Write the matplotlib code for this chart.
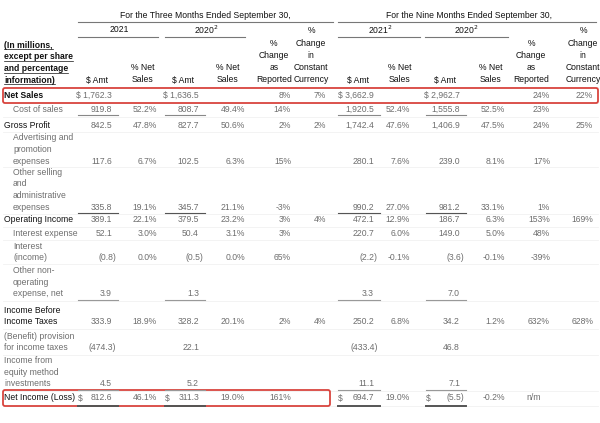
import matplotlib.pyplot as plt
from matplotlib.patches import FancyBboxPatch

plt.rcParams['font.family'] = ['Liberation Sans', 'DejaVu Sans']

# Datos de la tabla (millones)
row_labels = ["Net Sales", "Cost of sales", "Gross Profit",
              "Advertising and\npromotion\nexpenses",
              "Other selling\nand\nadministrative\nexpenses",
              "Operating Income", "Interest expense", "Interest\n(income)",
              "Other non-\noperating\nexpense, net",
              "Income Before\nIncome Taxes",
              "(Benefit) provision\nfor income taxes",
              "Income from\nequity method\ninvestments",
              "Net Income (Loss)"]
row_main = [True, False, True, False, False, True, False, False, False, True, False, False, True]
row_indent = [False, True, False, True, True, False, True, True, True, False, False, False, False]

amt_3m_2021 = [1762.3, 919.8, 842.5, 117.6, 335.8, 389.1, 52.1, -0.8, 3.9, 333.9, -474.3, 4.5, 812.6]
pct_3m_2021 = [None, 52.2, 47.8, 6.7, 19.1, 22.1, 3.0, 0.0, None, 18.9, None, None, 46.1]
amt_3m_2020 = [1636.5, 808.7, 827.7, 102.5, 345.7, 379.5, 50.4, -0.5, 1.3, 328.2, 22.1, 5.2, 311.3]
pct_3m_2020 = [None, 49.4, 50.6, 6.3, 21.1, 23.2, 3.1, 0.0, None, 20.1, None, None, 19.0]
chg_3m_rep = [8, 14, 2, 15, -3, 3, 3, 65, None, 2, None, None, 161]
chg_3m_cc = [7, None, 2, None, None, 4, None, None, None, 4, None, None, None]
amt_9m_2021 = [3662.9, 1920.5, 1742.4, 280.1, 990.2, 472.1, 220.7, -2.2, 3.3, 250.2, -433.4, 11.1, 694.7]
pct_9m_2021 = [None, 52.4, 47.6, 7.6, 27.0, 12.9, 6.0, -0.1, None, 6.8, None, None, 19.0]
amt_9m_2020 = [2962.7, 1555.8, 1406.9, 239.0, 981.2, 186.7, 149.0, -3.6, 7.0, 34.2, 46.8, 7.1, -5.5]
pct_9m_2020 = [None, 52.5, 47.5, 8.1, 33.1, 6.3, 5.0, -0.1, None, 1.2, None, None, -0.2]
chg_9m_rep = [24, 23, 24, 17, 1, 153, 48, -39, None, 632, None, None, "n/m"]
chg_9m_cc = [22, None, 25, None, None, 169, None, None, None, 628, None, None, None]

# y de la ultima linea de cada fila (px)
row_y = [95, 109, 125, 161, 207, 220, 233, 258, 294, 322, 348, 384, 398]
line_h = 11.6

# columnas: (datos, tipo, borde derecho px)
cols = [(amt_3m_2021, 'amt', 112), (pct_3m_2021, 'pct', 157),
        (amt_3m_2020, 'amt', 199), (pct_3m_2020, 'pct', 245),
        (chg_3m_rep, 'chg', 291), (chg_3m_cc, 'chg', 326),
        (amt_9m_2021, 'amt', 374), (pct_9m_2021, 'pct', 410),
        (amt_9m_2020, 'amt', 460), (pct_9m_2020, 'pct', 505),
        (chg_9m_rep, 'chg', 550), (chg_9m_cc, 'chg', 593)]
amt_left = {112: 78, 199: 165, 374: 338, 460: 426}

header_cols = [(97, ["$ Amt"]), (143, ["% Net", "Sales"]),
               (183, ["$ Amt"]), (228, ["% Net", "Sales"]),
               (274, ["%", "Change", "as", "Reported"]),
               (311, ["%", "Change", "in", "Constant", "Currency"]),
               (358, ["$ Amt"]), (400, ["% Net", "Sales"]),
               (445, ["$ Amt"]), (491, ["% Net", "Sales"]),
               (531, ["%", "Change", "as", "Reported"]),
               (583, ["%", "Change", "in", "Constant", "Currency"])]

fs = 6.2
c_txt = '#6e6e6e'
c_dark = '#111111'

fig = plt.figure(figsize=(6, 4.23), dpi=100)
ax = fig.add_axes([0, 0, 1, 1])
ax.set_xlim(0, 600)
ax.set_ylim(423, 0)
ax.axis('off')


def fmt(v, kind):
    if v is None:
        return None
    if isinstance(v, str):
        return v
    if kind == 'amt':
        s = f"{abs(v):,.1f}"
        return f"({s})" if v < 0 else s
    if kind == 'pct':
        return f"{v:.1f}%"
    return f"{v:.0f}%"


# lineas suaves entre filas
for yb in [87, 103, 117, 132, 167, 214, 227, 240, 264, 301, 329, 355, 391, 406]:
    ax.plot([3, 598], [yb, yb], color='#f1f1f1', lw=0.6, zorder=0)

# encabezados superiores
ax.text(205, 15, "For the Three Months Ended September 30,", ha='center', va='center',
        fontsize=fs, color=c_dark)
ax.text(469, 15, "For the Nine Months Ended September 30,", ha='center', va='center',
        fontsize=fs, color=c_dark)
ax.plot([78, 333], [22, 22], color='#777', lw=0.8)
ax.plot([338, 596], [22, 22], color='#777', lw=0.8)
for xc, lab, x0, x1 in [(119, "2021", 78, 158), (206, "2020$^2$", 165, 245),
                        (380, "2021$^2$", 338, 420), (466, "2020$^2$", 425, 508)]:
    ax.text(xc, 30, lab, ha='center', va='center', fontsize=fs, color=c_dark)
    ax.plot([x0, x1], [37, 37], color='#777', lw=0.8)

for xc, lines in header_cols:
    n = len(lines)
    for i, t in enumerate(lines):
        ax.text(xc, 80 - (n - 1 - i) * 12.3, t, ha='center', va='center',
                fontsize=fs, color=c_dark)

fig.canvas.draw()
inv = ax.transData.inverted()
for i, t in enumerate(["(In millions,", "except per share", "and percentage", "information)"]):
    tx = ax.text(4, 45 + i * 11.8, t, ha='left', va='center', fontsize=fs, color=c_dark,
                 fontweight='semibold')
    bb = tx.get_window_extent(renderer=fig.canvas.get_renderer())
    x0, _ = inv.transform((bb.x0, bb.y0))
    x1, _ = inv.transform((bb.x1, bb.y0))
    ax.plot([x0, x1], [49 + i * 11.8] * 2, color=c_dark, lw=0.5)

# filas
for r, lab in enumerate(row_labels):
    lines = lab.split("\n")
    n = len(lines)
    x = 13 if row_indent[r] else 4
    for i, t in enumerate(lines):
        ax.text(x, row_y[r] - (n - 1 - i) * line_h, t, ha='left', va='center',
                fontsize=fs, color=c_dark if row_main[r] else c_txt,
                fontweight='bold' if r == 0 else 'normal')
    for data, kind, xr in cols:
        s = fmt(data[r], kind)
        if s is None:
            continue
        xx = xr + 4 if s.startswith("(") else xr
        if kind == 'amt' and r == 0:
            s = "$ " + s
        if kind == 'amt' and r == len(row_labels) - 1:
            ax.text(amt_left[xr], row_y[r], "$", ha='left', va='center', fontsize=fs, color=c_txt)
        if s == "n/m":
            xx = xr - 9
        ax.text(xx, row_y[r], s, ha='right', va='center', fontsize=fs, color=c_txt)

# subrayados
for yl, lw, col in [(115, 0.8, '#888'), (213, 0.8, '#555'), (300, 0.8, '#999'),
                    (390, 0.8, '#999'), (406, 1.4, '#555')]:
    for xr, xl in amt_left.items():
        ax.plot([xl, xr + 6], [yl, yl], color=col, lw=lw)

# recuadros rojos
for x0, y0, w, h in [(3, 88, 595, 15), (3, 390, 327, 16)]:
    ax.add_patch(FancyBboxPatch((x0, y0), w, h, boxstyle="round,pad=0,rounding_size=2",
                                fill=False, ec='#d9453f', lw=1.3))

fig.savefig("out.png", dpi=100)
